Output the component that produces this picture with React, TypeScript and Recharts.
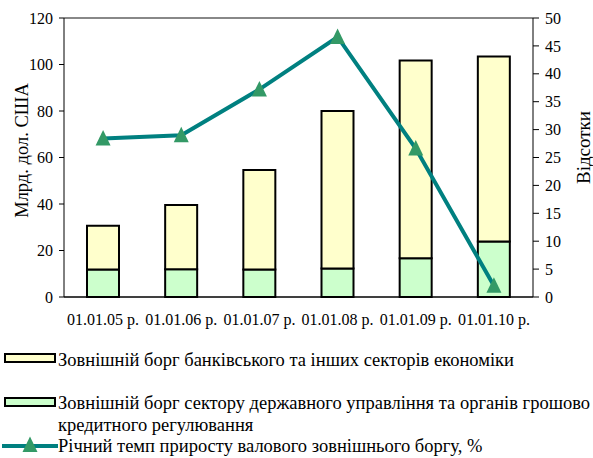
import React from 'react';
import { ComposedChart, Bar, Line, XAxis, YAxis, CartesianGrid, ReferenceLine, Legend } from 'recharts';

const categories = ['01.01.05 р.', '01.01.06 р.', '01.01.07 р.', '01.01.08 р.', '01.01.09 р.', '01.01.10 р.'];
const govDebt = [11.8, 11.9, 11.8, 12.3, 16.7, 23.9];
const bankDebt = [18.8, 27.7, 42.8, 67.7, 85.0, 79.5];
const growthRate = [28.4, 29.0, 37.2, 46.6, 26.6, 2.0];
const leftTicks = [0, 20, 40, 60, 80, 100, 120];
const rightTicks = [0, 5, 10, 15, 20, 25, 30, 35, 40, 45, 50];
const boundaryTicks = [0, 1, 2, 3, 4, 5, 6];

const seriesNames = {
  bank: 'Зовнішній борг банківського та інших секторів економіки',
  gov: 'Зовнішній борг сектору державного управління та органів грошово',
  govLine2: 'кредитного регулювання',
  growth: 'Річний темп приросту валового зовнішнього боргу, %',
};

const data = categories.map((c, i) => ({
  name: c,
  gov: govDebt[i],
  bank: bankDebt[i],
  growth: growthRate[i],
}));

const FONT = '"Liberation Serif", "Times New Roman", serif';

const Triangle = (props: any) => {
  const { cx, cy } = props;
  if (cx == null || cy == null) return null;
  return <path d={`M${cx},${cy - 8.5} L${cx + 7.5},${cy + 7} L${cx - 7.5},${cy + 7} Z`} fill="#339966" stroke="none" />;
};

const LegendContent = () => {
  const textStyle: React.CSSProperties = {
    position: 'absolute', left: 58, fontFamily: FONT, fontSize: 18.5, color: '#000',
    whiteSpace: 'nowrap', lineHeight: '20px',
  };
  return (
    <div style={{ position: 'relative', width: 593, height: 120 }}>
      <svg width={62} height={120} style={{ position: 'absolute', left: 0, top: 0 }}>
        <rect x={5} y={16} width={50} height={8} fill="#FFFFCC" stroke="#000" strokeWidth={2} />
        <rect x={5} y={60} width={50} height={8} fill="#CCFFCC" stroke="#000" strokeWidth={2} />
        <line x1={2} y1={108} x2={58} y2={108} stroke="#008080" strokeWidth={4} />
        <Triangle cx={30} cy={107} />
      </svg>
      <div style={{ ...textStyle, top: 12 }}>{seriesNames.bank}</div>
      <div style={{ ...textStyle, top: 55 }}>{seriesNames.gov}</div>
      <div style={{ ...textStyle, top: 77 }}>{seriesNames.govLine2}</div>
      <div style={{ ...textStyle, top: 98 }}>{seriesNames.growth}</div>
    </div>
  );
};

export default function App() {
  return (
    <div style={{ position: 'absolute', left: 0, top: 0, width: 593, height: 458, background: '#fff', overflow: 'hidden' }}>
      <ComposedChart width={593} height={458} data={data} margin={{ top: 18, right: 0, left: 0, bottom: 0 }}>
        <CartesianGrid horizontal vertical={false} stroke="#000" strokeOpacity={1} />
        <XAxis xAxisId="b" type="number" domain={[0, 6]} ticks={boundaryTicks} height={0}
          tick={false} axisLine={false} tickLine={{ stroke: '#000' }} tickSize={5} allowDataOverflow />
        <XAxis dataKey="name" height={41} tickLine={false} axisLine={{ stroke: '#000' }}
          tick={{ fontSize: 16, fontFamily: FONT, fill: '#000' }} tickMargin={11} interval={0} />
        <YAxis yAxisId="left" width={64} domain={[0, 120]} ticks={leftTicks}
          axisLine={{ stroke: '#000' }} tickLine={{ stroke: '#000' }} tickSize={5} tickMargin={6}
          tick={{ fontSize: 16, fontFamily: FONT, fill: '#000' }}
          label={{
            content: (p: any) => {
              const vb = p.viewBox;
              const x = vb.x + 22; const y = vb.y + vb.height / 2 - 7;
              return <text x={x} y={y} transform={`rotate(-90, ${x}, ${y})`} textAnchor="middle" dominantBaseline="central" fontFamily={FONT} fontSize={18.5} fill="#000">Млрд. дол. США</text>;
            },
          }} />
        <YAxis yAxisId="right" orientation="right" width={60} domain={[0, 50]} ticks={rightTicks}
          axisLine={{ stroke: '#000' }} tickLine={{ stroke: '#000' }} tickSize={6} tickMargin={6}
          tick={{ fontSize: 16, fontFamily: FONT, fill: '#000' }}
          label={{
            content: (p: any) => {
              const vb = p.viewBox;
              const x = vb.x + 50; const y = vb.y + vb.height / 2 - 10;
              return <text x={x} y={y} transform={`rotate(-90, ${x}, ${y})`} textAnchor="middle" dominantBaseline="central" fontFamily={FONT} fontSize={19} fill="#000">Відсотки</text>;
            },
          }} />
        <ReferenceLine yAxisId="left" y={120} stroke="#888" strokeWidth={2} />
        <Bar yAxisId="left" dataKey="gov" stackId="a" fill="#CCFFCC" stroke="#000" strokeWidth={2} barSize={32} isAnimationActive={false} />
        <Bar yAxisId="left" dataKey="bank" stackId="a" fill="#FFFFCC" stroke="#000" strokeWidth={2} barSize={32} isAnimationActive={false} />
        <Line yAxisId="right" dataKey="growth" stroke="#008080" strokeWidth={4} dot={<Triangle />} activeDot={false} isAnimationActive={false} />
        <Legend verticalAlign="bottom" height={120} wrapperStyle={{ left: 0, width: 593 }} content={<LegendContent />} />
      </ComposedChart>
    </div>
  );
}
